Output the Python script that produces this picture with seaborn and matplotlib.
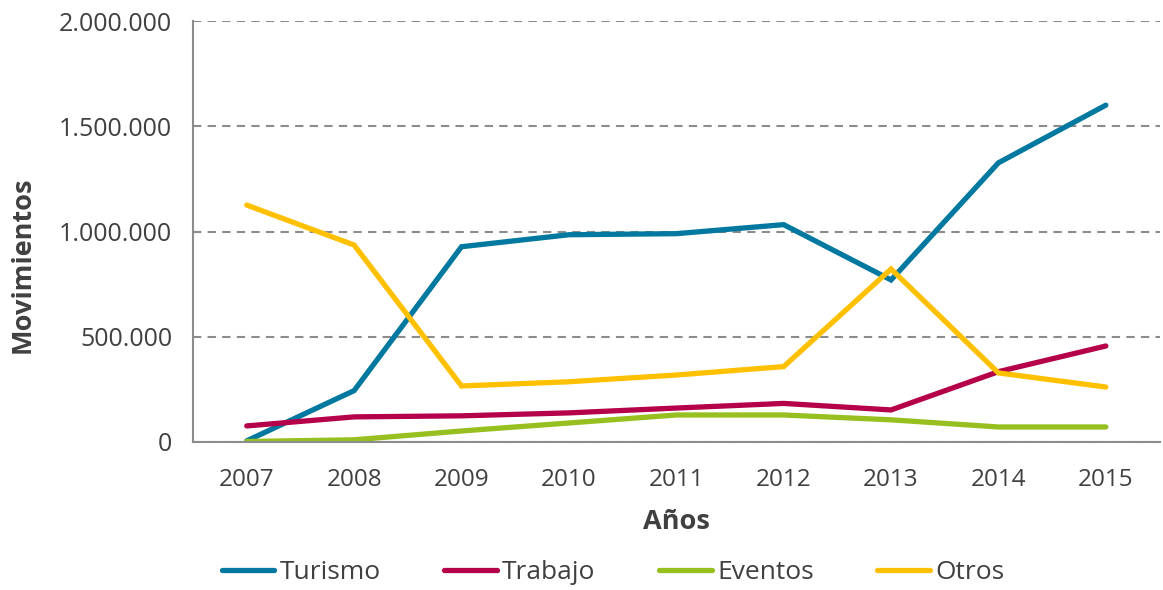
import pandas as pd
import matplotlib
matplotlib.use('Agg')
import matplotlib.pyplot as plt
import seaborn as sns
from matplotlib.ticker import FuncFormatter, FixedLocator

# Datos
anios = [2007, 2008, 2009, 2010, 2011, 2012, 2013, 2014, 2015]
turismo = [5000, 244000, 928000, 985000, 990000, 1033000, 770000, 1327000, 1601000]
trabajo = [76000, 119000, 124000, 138000, 161000, 183000, 152000, 334000, 456000]
eventos = [2000, 10000, 52000, 90000, 128000, 128000, 105000, 71000, 71000]
otros = [1126000, 936000, 266000, 286000, 318000, 358000, 822000, 328000, 261000]

series = ['Turismo', 'Trabajo', 'Eventos', 'Otros']
colores = ['#00789F', '#B5004A', '#97BF1F', '#FFC000']

df = pd.DataFrame({'Año': anios * 4,
                   'Valor': turismo + trabajo + eventos + otros,
                   'Tipo': [s for s in series for _ in anios]})

sns.set_style('white')
plt.rcParams['font.family'] = ['Open Sans', 'DejaVu Sans']

fig = plt.figure(figsize=(11.63, 5.90), dpi=100)
ax = fig.add_axes([0.166, 0.251, 0.831, 0.713])

sns.lineplot(data=df, x='Año', y='Valor', hue='Tipo', hue_order=series,
             palette=colores, linewidth=3.8, ax=ax, legend=False,
             solid_capstyle='round', solid_joinstyle='miter')

ax.set_xlim(2006.5, 2015.5)
ax.set_ylim(0, 2000000)
ax.set_yticks([0, 500000, 1000000, 1500000, 2000000])
ax.yaxis.set_major_formatter(FuncFormatter(lambda v, p: f'{int(v):,}'.replace(',', '.')))
ax.set_xticks(anios)
ax.set_xticklabels([str(a) for a in anios])
ax.xaxis.set_minor_locator(FixedLocator([a + 0.5 for a in [2006] + anios]))

ax.grid(axis='y', color='#8C8C8C', linestyle=(0, (4, 3)), linewidth=1.5)
ax.set_axisbelow(True)
for lado in ['top', 'right']:
    ax.spines[lado].set_visible(False)
for lado in ['left', 'bottom']:
    ax.spines[lado].set_color('#8C8C8C')
    ax.spines[lado].set_linewidth(1.5)

ax.tick_params(axis='y', which='major', length=7, width=1.5, color='#8C8C8C',
               labelsize=18, labelcolor='#404040', pad=8)
ax.tick_params(axis='x', which='major', length=0, labelsize=17.5,
               labelcolor='#404040', pad=19)
ax.tick_params(axis='x', which='minor', length=7, width=1.5, color='#8C8C8C',
               direction='out')

ax.set_xlabel('Años', fontsize=19.5, fontweight='bold', color='#404040', labelpad=12)
ax.set_ylabel('Movimientos', fontsize=19.5, fontweight='bold', color='#404040')
ax.yaxis.set_label_coords(-0.163, 0.42)

handles = [plt.Line2D([], [], color=c, linewidth=3.8, solid_capstyle='round') for c in colores]
fig.legend(handles, series, loc='center', bbox_to_anchor=(0.527, 0.03), ncol=4,
           frameon=False, fontsize=19, handlelength=2.0, handletextpad=0.2,
           columnspacing=2.4, labelcolor='#404040')

fig.savefig('out.png', dpi=100)
